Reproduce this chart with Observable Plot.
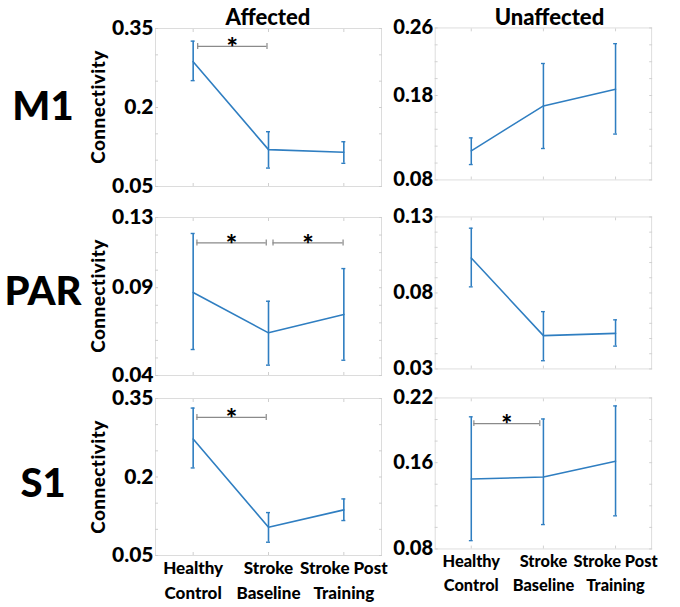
<!DOCTYPE html>
<html>
<head>
<meta charset="utf-8">
<script src="https://cdn.jsdelivr.net/npm/d3@7"></script>
<script src="https://cdn.jsdelivr.net/npm/@observablehq/plot@0.6"></script>
<style>
  html, body { margin: 0; padding: 0; background: #fff; }
  #wrap { position: relative; width: 680px; height: 607px; overflow: hidden; font-family: Lato, "Open Sans", sans-serif; color: #000; }
  .abs { position: absolute; white-space: nowrap; font-weight: 900; }
  .panel { position: absolute; }
  .panel svg text { font-weight: 900; }
</style>
</head>
<body>
<div id="wrap"></div>
<script>
// ---------- data ----------
const categories = ["Healthy\nControl", "Stroke\nBaseline", "Stroke Post\nTraining"];
const regions = ["M1", "PAR", "S1"];
const sides = ["Affected", "Unaffected"];
const yLabel = "Connectivity";

// M1
const m1AffMean = [0.287, 0.120, 0.115];
const m1AffLo   = [0.251, 0.085, 0.094];
const m1AffHi   = [0.326, 0.154, 0.135];
const m1UnaMean = [0.1145, 0.1677, 0.1875];
const m1UnaLo   = [0.0982, 0.1172, 0.1343];
const m1UnaHi   = [0.1298, 0.2179, 0.2414];
// PAR
const parAffMean = [0.0873, 0.0643, 0.0748];
const parAffLo   = [0.0548, 0.0459, 0.0487];
const parAffHi   = [0.1209, 0.0823, 0.1009];
const parUnaMean = [0.103, 0.0519, 0.0534];
const parUnaLo   = [0.084, 0.0354, 0.045];
const parUnaHi   = [0.1226, 0.0677, 0.0623];
// S1
const s1AffMean = [0.2726, 0.104, 0.1372];
const s1AffLo   = [0.2173, 0.0754, 0.1168];
const s1AffHi   = [0.3317, 0.132, 0.1581];
const s1UnaMean = [0.1449, 0.1467, 0.1614];
const s1UnaLo   = [0.0877, 0.1026, 0.1107];
const s1UnaHi   = [0.2025, 0.2005, 0.2126];

// y axis domains and tick labels
const m1AffDomain = [0.05, 0.35], m1AffTicks = [0.05, 0.2, 0.35], m1AffStep = 0.05;
const m1UnaDomain = [0.08, 0.26], m1UnaTicks = [0.08, 0.18, 0.26], m1UnaStep = 0.02;
const parAffDomain = [0.04, 0.13], parAffTicks = [0.04, 0.09, 0.13], parAffStep = 0.01;
const parUnaDomain = [0.03, 0.13], parUnaTicks = [0.03, 0.08, 0.13], parUnaStep = 0.01;
const s1AffDomain = [0.05, 0.35], s1AffTicks = [0.05, 0.2, 0.35], s1AffStep = 0.05;
const s1UnaDomain = [0.08, 0.22], s1UnaTicks = [0.08, 0.16, 0.22], s1UnaStep = 0.02;

// significance brackets: [from category, to category, level]
const m1AffSig  = [{x1: 1.06, x2: 1.98, y: 0.316}];
const m1UnaSig  = [];
const parAffSig = [{x1: 1.05, x2: 1.97, y: 0.1155}, {x1: 2.06, x2: 2.99, y: 0.1155}];
const parUnaSig = [];
const s1AffSig  = [{x1: 1.05, x2: 1.97, y: 0.3138}];
const s1UnaSig  = [{x1: 1.036, x2: 1.95, y: 0.1962}];

// ---------- layout ----------
const blue = "#2f7ec1";
const boxLeft = [155, 437], boxWidth = [226, 225];
const boxTop = [28, 217, 398], boxHeight = [158, 158, 157];

const panels = [
  [
    {mean: m1AffMean, lo: m1AffLo, hi: m1AffHi, domain: m1AffDomain, ticks: m1AffTicks, step: m1AffStep, sig: m1AffSig},
    {mean: m1UnaMean, lo: m1UnaLo, hi: m1UnaHi, domain: m1UnaDomain, ticks: m1UnaTicks, step: m1UnaStep, sig: m1UnaSig}
  ],
  [
    {mean: parAffMean, lo: parAffLo, hi: parAffHi, domain: parAffDomain, ticks: parAffTicks, step: parAffStep, sig: parAffSig},
    {mean: parUnaMean, lo: parUnaLo, hi: parUnaHi, domain: parUnaDomain, ticks: parUnaTicks, step: parUnaStep, sig: parUnaSig}
  ],
  [
    {mean: s1AffMean, lo: s1AffLo, hi: s1AffHi, domain: s1AffDomain, ticks: s1AffTicks, step: s1AffStep, sig: s1AffSig},
    {mean: s1UnaMean, lo: s1UnaLo, hi: s1UnaHi, domain: s1UnaDomain, ticks: s1UnaTicks, step: s1UnaStep, sig: s1UnaSig}
  ]
];

const wrap = document.getElementById("wrap");

function makePanel(p, r, c) {
  const mL = 60, mR = 30, mT = 14, mB = r === 2 ? 60 : 8;
  const rows = p.mean.map((m, i) => ({x: i + 1, mean: m, lo: p.lo[i], hi: p.hi[i]}));
  const minor = d3.range(p.domain[0], p.domain[1] + p.step / 2, p.step);
  const tickStyle = {stroke: "#cfcfcf", tickSize: -3, tickFormat: () => ""};
  const marks = [
    Plot.frame({stroke: "#dcdcdc"}),
    Plot.axisY({anchor: "left", ticks: minor, ...tickStyle}),
    Plot.axisY({anchor: "right", ticks: minor, ...tickStyle}),
    Plot.axisX({anchor: "bottom", ticks: [1, 2, 3], ...tickStyle}),
    Plot.axisX({anchor: "top", ticks: [1, 2, 3], ...tickStyle}),
    Plot.axisY({anchor: "left", ticks: p.ticks, tickSize: 0, tickPadding: 2,
      tickFormat: d => String(d), fontSize: 21, fontWeight: "bold", fill: "#000"}),
    Plot.ruleX(rows, {x: "x", y1: "lo", y2: "hi", stroke: blue, strokeWidth: 1.6}),
    Plot.ruleY(rows, {y: "lo", x1: "x", x2: "x", insetLeft: -2, insetRight: -2, stroke: blue, strokeWidth: 1.4}),
    Plot.ruleY(rows, {y: "hi", x1: "x", x2: "x", insetLeft: -2, insetRight: -2, stroke: blue, strokeWidth: 1.4}),
    Plot.line(rows, {x: "x", y: "mean", stroke: blue, strokeWidth: 1.6}),
    Plot.ruleY(p.sig, {y: "y", x1: "x1", x2: "x2", stroke: "#8a8a8a", strokeWidth: 1.2}),
    Plot.ruleX(p.sig, {x: "x1", y1: "y", y2: "y", insetTop: -3, insetBottom: -3, stroke: "#8a8a8a", strokeWidth: 1.2}),
    Plot.ruleX(p.sig, {x: "x2", y1: "y", y2: "y", insetTop: -3, insetBottom: -3, stroke: "#8a8a8a", strokeWidth: 1.2}),
    Plot.text(p.sig, {x: d => (d.x1 + d.x2) / 2, y: "y", text: () => "*", fontSize: 27, fontWeight: "bold",
      lineAnchor: "middle", dy: 2, fill: "#000"})
  ];
  if (r === 2) {
    marks.push(Plot.axisX({anchor: "bottom", ticks: [1, 2, 3], tickSize: 0, tickPadding: 1,
      tickFormat: i => categories[i - 1], fontSize: 17, fontWeight: "bold", lineHeight: 1.47, fill: "#000"}));
  }
  const chart = Plot.plot({
    width: boxWidth[c] + mL + mR,
    height: boxHeight[r] + mT + mB,
    marginLeft: mL, marginRight: mR, marginTop: mT, marginBottom: mB,
    x: {domain: [0.5, 3.5]},
    y: {domain: p.domain},
    style: {fontFamily: "Lato, 'Open Sans', sans-serif", background: "transparent", color: "#000", overflow: "visible"},
    marks
  });
  const holder = document.createElement("div");
  holder.className = "panel";
  holder.style.left = (boxLeft[c] - mL) + "px";
  holder.style.top = (boxTop[r] - mT) + "px";
  holder.appendChild(chart);
  wrap.appendChild(holder);
}

panels.forEach((row, r) => row.forEach((p, c) => makePanel(p, r, c)));

// column titles
sides.forEach((s, c) => {
  const d = document.createElement("div");
  d.className = "abs";
  d.textContent = s;
  d.style.fontSize = "22px";
  d.style.lineHeight = "22px";
  d.style.left = (boxLeft[c] + boxWidth[c] / 2) + "px";
  d.style.top = "6px";
  d.style.transform = "translateX(-50%)";
  wrap.appendChild(d);
});

// row labels and y labels
const rowLabelY = [105, 290, 482];
regions.forEach((g, r) => {
  const d = document.createElement("div");
  d.className = "abs";
  d.textContent = g;
  d.style.fontSize = "40px";
  d.style.lineHeight = "40px";
  d.style.left = "43px";
  d.style.top = rowLabelY[r] + "px";
  d.style.transform = "translate(-50%, -50%)";
  wrap.appendChild(d);

  const y = document.createElement("div");
  y.className = "abs";
  y.textContent = yLabel;
  y.style.fontSize = "19px";
  y.style.lineHeight = "19px";
  y.style.letterSpacing = "0.4px";
  y.style.left = "97px";
  y.style.top = (boxTop[r] + boxHeight[r] / 2) + "px";
  y.style.transform = "translate(-50%, -50%) rotate(-90deg)";
  wrap.appendChild(y);
});
</script>
</body>
</html>
